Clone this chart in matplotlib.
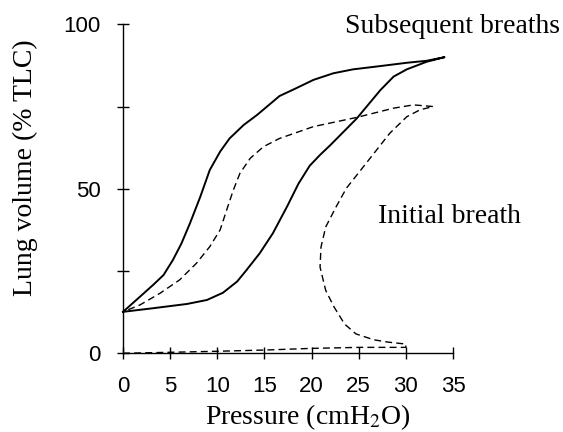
import matplotlib
matplotlib.use('Agg')
import matplotlib.pyplot as plt

# Subsequent breaths (solid loop): inflation limb then deflation limb
sub_infl_p = [0, 3.2, 6.8, 8.9, 10.6, 12.1, 13.1, 14.5, 15.9, 17.4, 18.6, 19.8, 20.9, 22.0,
              24.8, 27.3, 28.7, 30.1, 32.2, 34.1]
sub_infl_v = [12.6, 13.7, 15.0, 16.2, 18.4, 21.8, 25.3, 30.4, 36.5, 44.6, 51.5, 57.0, 60.3, 63.3,
              71.4, 80.0, 84.1, 86.3, 88.6, 90.0]
sub_defl_p = [34.1, 32.2, 30.1, 27.3, 24.4, 22.3, 20.2, 18.1, 16.6, 15.9, 14.2, 12.8, 11.3, 10.3,
              9.2, 8.2, 7.1, 6.2, 5.3, 4.3, 3.2, 1.8, 0]
sub_defl_v = [90.0, 88.9, 88.3, 87.3, 86.3, 85.1, 83.1, 80.2, 78.2, 76.5, 72.4, 69.4, 65.3, 61.3,
              55.7, 47.6, 39.5, 33.4, 28.4, 23.8, 20.8, 17.2, 12.6]

# Initial breath (dashed loop)
ini_infl_p = [0, 9.8, 15.2, 20.1, 25.1, 30.0, 30.0, 28.1, 26.6, 24.7, 23.5, 22.4, 21.5, 20.9,
              21.0, 21.5, 22.6, 23.7, 25.8, 28.3, 30.1, 31.5, 32.9]
ini_infl_v = [0, 0.6, 1.0, 1.5, 1.8, 1.8, 2.8, 3.4, 4.1, 5.9, 8.9, 14.0, 19.1, 26.2,
              32.3, 38.4, 44.5, 50.2, 57.8, 66.9, 71.9, 74.0, 75.0]
ini_defl_p = [32.9, 30.8, 28.7, 24.8, 20.2, 16.6, 14.9, 13.5, 12.4, 11.7, 11.0, 10.3, 9.2, 7.8,
              6.0, 3.9, 1.8, 0]
ini_defl_v = [75.0, 75.5, 74.5, 71.7, 68.9, 65.3, 62.8, 59.3, 54.7, 49.6, 43.6, 37.5, 32.4, 27.4,
              22.3, 18.2, 14.7, 12.6]

x_ticks = [0, 5, 10, 15, 20, 25, 30, 35]
y_ticks = [0, 25, 50, 75, 100]
y_ticklabels = ['0', '', '50', '', '100']

plt.rcParams['mathtext.fontset'] = 'stix'
SERIF = 'Liberation Serif'
SANS = 'Liberation Sans'

fig = plt.figure(figsize=(5.63, 4.32), dpi=100)
ax = fig.add_axes([0.2185, 0.1822, 0.8046 - 0.2185, 0.9438 - 0.1822])

ax.plot(sub_infl_p + sub_defl_p[1:], sub_infl_v + sub_defl_v[1:], color='black', lw=1.4,
        solid_joinstyle='round', clip_on=False)
ax.plot(ini_infl_p + ini_defl_p[1:], ini_infl_v + ini_defl_v[1:], color='black', lw=1.0,
        linestyle=(0, (5, 3)), clip_on=False)

ax.set_xlim(0, 35)
ax.set_ylim(0, 100)
for s in ['top', 'right']:
    ax.spines[s].set_visible(False)
for s in ['left', 'bottom']:
    ax.spines[s].set_linewidth(1.0)

ax.set_xticks(x_ticks)
ax.set_yticks(y_ticks)
ax.set_yticklabels(y_ticklabels)
ax.tick_params(direction='inout', length=8, width=1.0, pad=12, labelsize=16)
for lbl in ax.get_xticklabels() + ax.get_yticklabels():
    lbl.set_fontfamily(SANS)

ax.text(23.5, 97.4, 'Subsequent breaths', fontsize=20, family=SERIF, va='baseline', ha='left',
        clip_on=False)
ax.text(27.0, 39.6, 'Initial breath', fontsize=20, family=SERIF, va='baseline', ha='left')

fig.text(307.5 / 563, 1 - 424 / 432, 'Pressure (cmH$_2$O)', fontsize=20, family=SERIF,
         ha='center', va='baseline')
fig.text(25 / 563, 1 - 168 / 432, 'Lung volume (% TLC)', fontsize=20, family=SERIF,
         ha='center', va='center', rotation=90)

fig.savefig('out.png', dpi=100)
